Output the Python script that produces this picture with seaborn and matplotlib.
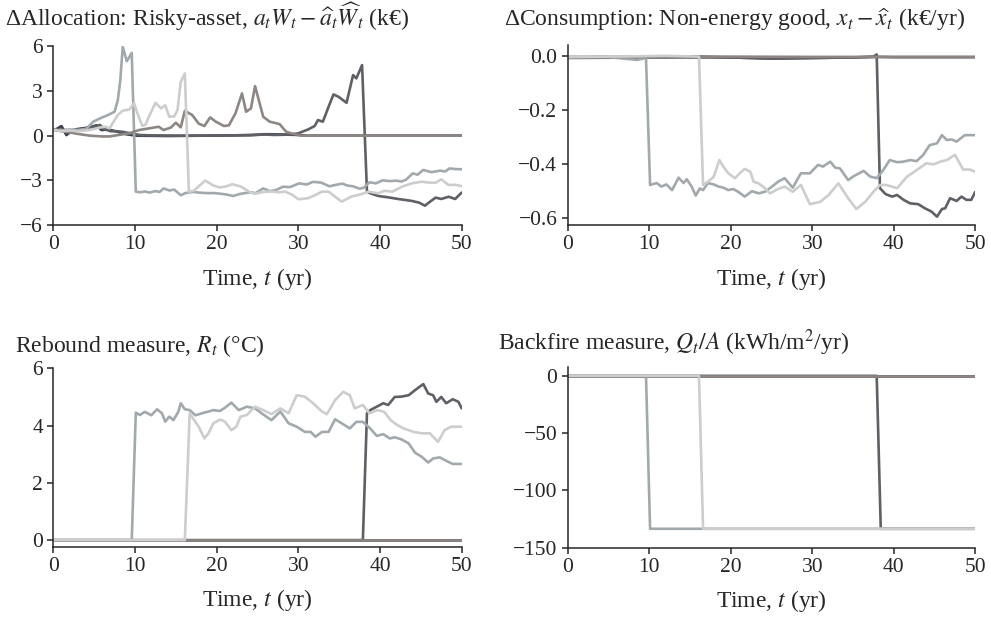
import seaborn as sns
import matplotlib.pyplot as plt

# colours of the five simulated paths
col_a = '#a2a9ad'
col_b = '#cdcdcd'
col_c = '#5e6066'
col_d = '#8d8682'
col_e = '#3d4152'

# --- Delta allocation (k EUR) ---
t_alloc_a = [0, 1, 2, 3, 4, 4.9, 5.7, 6.7, 7.5, 7.9, 8.2, 8.5, 9.0, 9.6, 10.1, 10.6, 11.2, 11.8, 12.5, 13.0,
             13.5, 14.2, 14.8, 15.6, 16.2, 17.1, 18.0, 19.0, 19.6, 20.5, 21.2, 22.0, 22.8, 23.5, 24.3, 24.7,
             25.7, 26.5, 27.3, 28.1, 29.0, 30.1, 31.0, 31.8, 32.8, 33.8, 34.6, 35.4, 36.0, 36.7, 37.5, 38.0,
             38.7, 39.5, 40.3, 41.2, 42.0, 42.6, 43.2, 44.0, 44.6, 45.3, 46.3, 47.3, 48.0, 48.5, 49.4, 50.0]
y_alloc_a = [0.40, 0.35, 0.42, 0.38, 0.45, 0.94, 1.16, 1.39, 1.61, 2.39, 3.73, 5.97, 5.00, 5.56, -3.76, -3.80,
             -3.75, -3.82, -3.72, -3.78, -3.54, -3.68, -3.62, -4.00, -3.85, -3.78, -3.83, -3.86, -3.85, -3.90,
             -3.95, -4.05, -3.92, -3.85, -3.80, -3.87, -3.54, -3.72, -3.64, -3.43, -3.45, -3.20, -3.28, -3.10,
             -3.15, -3.40, -3.30, -3.22, -3.35, -3.40, -3.56, -3.50, -3.13, -3.20, -3.00, -3.05, -3.02, -3.08,
             -2.95, -2.53, -2.62, -2.30, -2.45, -2.35, -2.40, -2.20, -2.25, -2.25]
t_alloc_b = [0, 1, 2, 3, 4, 5, 5.7, 6.4, 6.9, 7.3, 7.9, 8.5, 9.3, 9.9, 10.3, 10.9, 11.3, 11.7, 12.5, 13.2,
             13.7, 14.2, 14.8, 15.2, 15.6, 16.1, 16.6, 17.2, 17.8, 18.6, 19.6, 20.4, 21.2, 21.9, 22.9, 24.1,
             24.7, 25.5, 26.7, 27.5, 28.4, 29.2, 30.0, 31.2, 32.0, 32.9, 33.7, 34.5, 35.3, 36.5, 37.8, 38.6,
             39.8, 40.5, 41.5, 42.7, 43.9, 45.1, 46.0, 46.8, 47.5, 48.4, 49.2, 50.0]
y_alloc_b = [0.40, 0.30, 0.35, 0.30, 0.35, 0.45, 0.55, 0.60, 0.49, 0.87, 1.39, 1.68, 1.76, 2.17, 1.49, 0.65,
             0.75, 1.27, 2.21, 1.83, 2.04, 1.27, 1.30, 1.70, 3.62, 4.18, -3.76, -3.70, -3.40, -3.02, -3.35,
             -3.48, -3.40, -3.26, -3.40, -3.80, -3.90, -3.80, -3.74, -3.80, -3.76, -3.95, -4.27, -4.20, -4.00,
             -3.76, -3.76, -4.10, -4.43, -4.09, -3.91, -3.76, -3.87, -3.70, -3.76, -3.42, -3.20, -3.09, -3.15,
             -3.16, -2.93, -3.31, -3.30, -3.38]
t_alloc_c = [0, 1, 2, 3, 4, 5, 5.7, 6.2, 7.0, 7.8, 8.6, 9.5, 10.5, 12, 15, 18, 21, 24, 26, 27, 28, 29, 30.0,
             31.2, 32.0, 32.4, 33.0, 33.7, 34.3, 34.9, 35.9, 36.7, 37.1, 37.8, 38.4, 38.8, 39.8, 41.0, 42.2,
             43.9, 44.8, 45.5, 46.2, 46.8, 47.5, 48.4, 49.2, 50]
y_alloc_c = [0.40, 0.40, 0.35, 0.42, 0.48, 0.60, 0.72, 0.45, 0.30, 0.30, 0.25, 0.15, 0.05, 0.02, 0.0, 0.0,
             0.02, 0.03, 0.08, 0.05, 0.06, 0.08, 0.16, 0.42, 0.65, 1.05, 0.94, 1.94, 2.77, 2.62, 2.21, 4.07,
             3.85, 4.74, -3.76, -3.87, -4.05, -4.14, -4.25, -4.38, -4.50, -4.70, -4.40, -4.16, -4.25, -4.10,
             -4.25, -3.82]
t_alloc_d = [0, 1, 2, 3, 4.5, 6, 6.9, 8, 9.3, 10.5, 11.7, 12.9, 13.5, 14.4, 15.0, 15.6, 16.1, 17.0, 17.8,
             18.5, 19.2, 19.9, 20.9, 21.5, 22.3, 23.1, 23.6, 24.2, 24.7, 25.7, 26.5, 27.7, 28.5, 29.1, 30.4,
             35, 40, 50]
y_alloc_d = [0.40, 0.30, 0.22, 0.12, 0.0, -0.05, -0.05, 0.05, 0.16, 0.38, 0.49, 0.60, 0.38, 0.55, 0.87,
             0.56, 1.67, 1.39, 0.81, 0.65, 1.23, 0.94, 0.65, 0.70, 1.50, 2.84, 1.61, 1.83, 3.33, 1.27, 0.94,
             0.78, 0.27, 0.16, 0.0, 0.0, 0.0, 0.0]
t_alloc_e = [0, 0.4, 1.0, 1.6, 2.2, 2.9, 3.7, 4.5, 5.3, 5.9, 6.7, 7.8, 9.0, 10.2, 14, 18, 22, 24.4, 26, 28,
             30, 31, 35, 50]
y_alloc_e = [0.40, 0.45, 0.65, 0.04, 0.30, 0.44, 0.50, 0.57, 0.70, 0.38, 0.42, 0.27, 0.09, 0.0, -0.02, 0.0,
             0.02, 0.05, 0.10, 0.08, 0.05, 0.0, 0.0, 0.0]

# --- Delta consumption, non-energy good (k EUR/yr) ---
t_cons_a = [0, 5, 8.5, 9.0, 9.6, 10.1, 10.9, 11.5, 12.1, 12.8, 13.6, 14.2, 14.6, 15.2, 15.7, 16.2, 16.6,
            17.2, 17.9, 18.5, 19.1, 19.7, 20.3, 20.9, 21.7, 22.6, 23.4, 24.2, 24.8, 25.8, 26.6, 27.6, 28.6,
            29.7, 30.7, 31.3, 32.2, 32.8, 33.4, 34.4, 35.0, 36.3, 37.1, 37.9, 38.7, 39.5, 40.4, 41.2, 42.0,
            42.8, 43.6, 44.4, 45.3, 45.9, 46.5, 47.1, 47.7, 48.7, 50.0]
y_cons_a = [-0.005, -0.005, -0.015, -0.012, -0.008, -0.477, -0.470, -0.483, -0.475, -0.496, -0.450, -0.470,
            -0.456, -0.483, -0.516, -0.490, -0.496, -0.470, -0.475, -0.483, -0.487, -0.496, -0.492, -0.502,
            -0.520, -0.500, -0.508, -0.502, -0.489, -0.465, -0.452, -0.487, -0.434, -0.434, -0.403, -0.409,
            -0.391, -0.413, -0.416, -0.459, -0.446, -0.425, -0.446, -0.452, -0.422, -0.385, -0.393, -0.391,
            -0.385, -0.389, -0.366, -0.330, -0.323, -0.293, -0.311, -0.309, -0.317, -0.293, -0.293]
t_cons_b = [0, 8, 12, 16.1, 16.6, 17.2, 17.9, 18.6, 19.1, 19.7, 20.5, 21.1, 21.7, 22.4, 22.8, 23.4, 24.2,
            24.8, 25.8, 26.6, 27.6, 28.6, 29.7, 31.0, 32.0, 33.2, 34.4, 35.4, 36.5, 37.5, 38.3, 39.1, 40.4,
            41.6, 42.8, 44.0, 44.9, 45.7, 46.5, 47.5, 48.5, 49.3, 50.0]
y_cons_b = [-0.005, -0.002, 0.0, -0.003, -0.477, -0.465, -0.447, -0.385, -0.410, -0.434, -0.452, -0.434,
            -0.418, -0.428, -0.465, -0.471, -0.489, -0.508, -0.492, -0.483, -0.502, -0.477, -0.548, -0.539,
            -0.514, -0.471, -0.526, -0.566, -0.539, -0.502, -0.477, -0.477, -0.489, -0.447, -0.422, -0.397,
            -0.401, -0.391, -0.385, -0.366, -0.420, -0.420, -0.428]
t_cons_c = [0, 10, 20, 25, 30, 35, 37.5, 37.9, 38.3, 39.0, 39.8, 40.4, 41.2, 42.0, 43.0, 43.8, 44.6, 45.3,
            45.9, 46.3, 46.9, 47.7, 48.3, 48.9, 49.5, 50.0]
y_cons_c = [-0.008, -0.006, -0.006, -0.010, -0.008, -0.006, -0.003, 0.005, -0.489, -0.511, -0.520, -0.514,
            -0.532, -0.545, -0.548, -0.563, -0.575, -0.594, -0.566, -0.563, -0.526, -0.536, -0.520, -0.532,
            -0.532, -0.502]
t_cons_d = [0, 10, 20, 30, 40, 50]
y_cons_d = [-0.004, -0.004, -0.003, -0.004, -0.004, -0.004]
t_cons_e = [0, 10, 16, 20, 25, 30, 35, 38, 40, 50]
y_cons_e = [-0.006, -0.004, -0.003, -0.006, -0.010, -0.008, -0.006, -0.004, -0.005, -0.005]

# --- Rebound measure (deg C) ---
t_reb_a = [0, 9.6, 10.1, 10.6, 11.2, 12.0, 12.7, 13.3, 13.7, 14.2, 14.7, 15.3, 15.6, 16.1, 16.7, 17.4, 18.2,
           19.0, 19.6, 20.4, 21.0, 21.8, 22.7, 23.7, 24.7, 25.5, 26.7, 27.8, 28.8, 29.8, 30.8, 31.5, 32.1,
           32.9, 33.7, 34.5, 35.3, 36.3, 37.1, 37.9, 38.8, 39.6, 40.4, 41.2, 41.8, 42.6, 43.5, 44.3, 45.1,
           45.9, 46.5, 47.3, 48.1, 48.9, 50.0]
y_reb_a = [0, 0, 4.45, 4.37, 4.48, 4.36, 4.57, 4.43, 4.14, 4.31, 4.19, 4.48, 4.78, 4.57, 4.54, 4.36, 4.43,
           4.49, 4.54, 4.51, 4.62, 4.80, 4.54, 4.66, 4.60, 4.43, 4.19, 4.49, 4.08, 3.96, 3.78, 3.78, 3.61,
           3.78, 3.78, 4.22, 4.08, 3.90, 4.13, 4.13, 3.90, 3.64, 3.70, 3.55, 3.59, 3.52, 3.38, 3.05, 2.91,
           2.71, 2.85, 2.89, 2.77, 2.66, 2.66]
t_reb_b = [0, 16.1, 16.7, 17.1, 17.8, 18.5, 19.0, 19.6, 20.4, 21.0, 21.8, 22.4, 22.9, 23.7, 24.7, 25.7, 26.7,
           27.8, 28.8, 29.8, 30.8, 31.8, 32.9, 33.5, 34.5, 35.5, 36.3, 36.9, 37.9, 38.7, 39.7, 40.5, 41.3,
           42.1, 42.9, 44.1, 45.1, 46.1, 47.1, 47.9, 48.7, 50.0]
y_reb_b = [0, 0, 4.43, 4.25, 3.96, 3.55, 3.73, 4.08, 4.21, 4.14, 3.84, 3.96, 4.31, 4.37, 4.66, 4.54, 4.40,
           4.60, 4.43, 5.06, 5.01, 4.78, 4.49, 4.40, 4.89, 5.18, 5.06, 4.60, 4.72, 4.43, 4.54, 4.48, 4.19,
           4.02, 3.90, 3.78, 3.73, 3.73, 3.43, 3.84, 3.96, 3.96]
t_reb_c = [0, 37.9, 38.4, 38.8, 39.6, 40.4, 41.0, 41.8, 42.6, 43.5, 44.3, 45.3, 45.9, 46.5, 46.9, 47.5, 48.1,
           48.9, 49.6, 50.0]
y_reb_c = [0, 0, 4.43, 4.54, 4.66, 4.78, 4.72, 5.00, 5.01, 5.06, 5.24, 5.45, 5.12, 5.06, 4.83, 5.00, 4.78,
           4.92, 4.83, 4.60]
t_reb_d = [0, 50]
y_reb_d = [0, 0]
t_reb_e = [0, 50]
y_reb_e = [0, 0]

# --- Backfire measure (kWh/m2/yr) ---
t_back_a = [0, 9.6, 10.1, 50]
y_back_a = [0, 0, -133.5, -133.5]
t_back_b = [0, 16.1, 16.6, 50]
y_back_b = [0, 0, -133.5, -133.5]
t_back_c = [0, 37.9, 38.4, 50]
y_back_c = [0, 0, -133.5, -133.5]
t_back_d = [0, 50]
y_back_d = [0, 0]
t_back_e = [0, 50]
y_back_e = [0, 0]

sns.set_theme(style="ticks")
plt.rcParams['font.family'] = ['Liberation Serif', 'DejaVu Serif']
plt.rcParams['mathtext.fontset'] = 'stix'
plt.rcParams['axes.linewidth'] = 1.1
plt.rcParams['xtick.major.width'] = 1.1
plt.rcParams['ytick.major.width'] = 1.1
plt.rcParams['xtick.major.size'] = 4
plt.rcParams['ytick.major.size'] = 4
plt.rcParams['xtick.labelsize'] = 15.5
plt.rcParams['ytick.labelsize'] = 15.5

fig = plt.figure(figsize=(9.91, 6.23), dpi=100)

panels = [
    # rect, series, ylim, yticks, title, title pos
    ([0.0538, 0.6388, 0.4121, 0.2868],
     [(t_alloc_e, y_alloc_e, col_e), (t_alloc_c, y_alloc_c, col_c), (t_alloc_a, y_alloc_a, col_a),
      (t_alloc_d, y_alloc_d, col_d), (t_alloc_b, y_alloc_b, col_b)],
     (-6, 6), [-6, -3, 0, 3, 6],
     r"ΔAllocation: Risky-asset, $a_tW_t - \widehat{a}_t\widehat{W}_t$ (k€)", (-0.118, 1.114)),
    ([0.5729, 0.6388, 0.4113, 0.2890],
     [(t_cons_e, y_cons_e, col_e), (t_cons_c, y_cons_c, col_c), (t_cons_a, y_cons_a, col_a),
      (t_cons_d, y_cons_d, col_d), (t_cons_b, y_cons_b, col_b)],
     (-0.625, 0.04), [-0.6, -0.4, -0.2, 0.0],
     r"ΔConsumption: Non-energy good, $x_t - \widehat{x}_t$ (k€/yr)", (-0.156, 1.106)),
    ([0.0538, 0.1225, 0.4121, 0.2863],
     [(t_reb_e, y_reb_e, col_e), (t_reb_c, y_reb_c, col_c), (t_reb_a, y_reb_a, col_a),
      (t_reb_d, y_reb_d, col_d), (t_reb_b, y_reb_b, col_b)],
     (-0.23, 6), [0, 2, 4, 6],
     r"Rebound measure, $R_t$ (°C)", (-0.094, 1.091)),
    ([0.5729, 0.1209, 0.4113, 0.2905],
     [(t_back_e, y_back_e, col_e), (t_back_c, y_back_c, col_c), (t_back_a, y_back_a, col_a),
      (t_back_d, y_back_d, col_d), (t_back_b, y_back_b, col_b)],
     (-150, 8), [-150, -100, -50, 0],
     r"Backfire measure, $Q_t/A$ (kWh/m$^2$/yr)", (-0.171, 1.092)),
]

for rect, series, ylim, yticks, title, tpos in panels:
    ax = fig.add_axes(rect)
    for t, y, c in series:
        sns.lineplot(x=t, y=y, ax=ax, color=c, linewidth=1.9, estimator=None)
    ax.set_xlim(0, 50)
    ax.set_ylim(*ylim)
    ax.set_xticks([0, 10, 20, 30, 40, 50])
    ax.set_yticks(yticks)
    ax.set_xlabel(r"Time, $t$ (yr)", fontsize=17, labelpad=8)
    ax.set_ylabel("")
    ax.text(tpos[0], tpos[1], title, transform=ax.transAxes, ha='left', va='baseline', fontsize=17)
    sns.despine(ax=ax)

fig.savefig("out.png", dpi=100)
